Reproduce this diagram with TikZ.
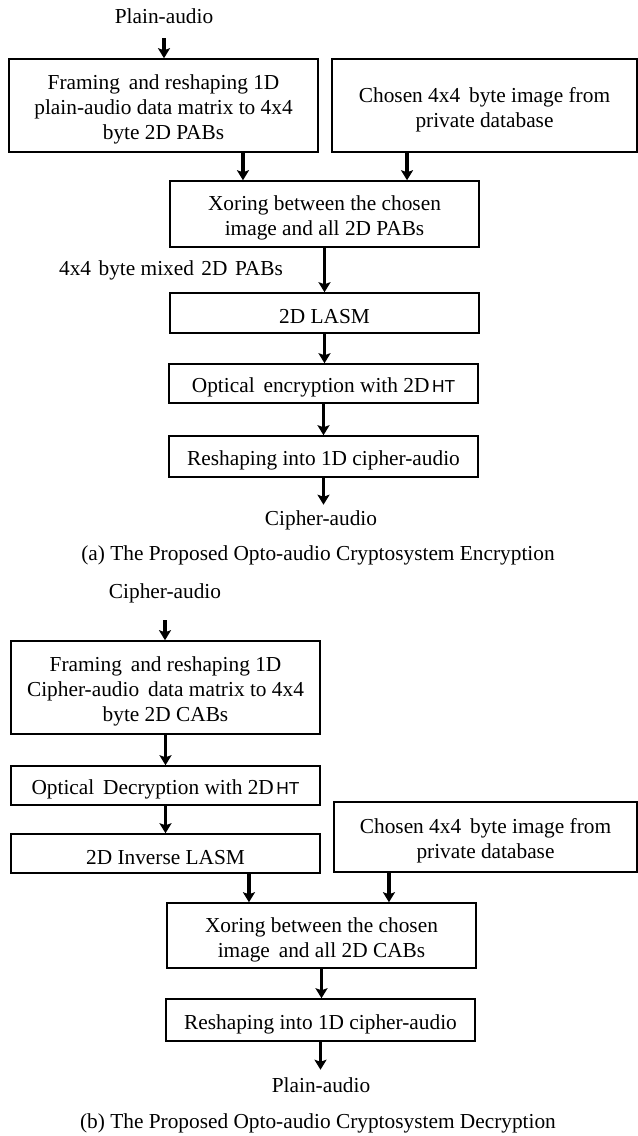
\documentclass[tikz,border=0pt]{standalone}
\usepackage{fontspec}
\setmainfont{Liberation Serif}
\newfontfamily\htfont{Liberation Sans}
\usetikzlibrary{arrows.meta}
\newcommand{\HT}{\hspace{0.12em}{\htfont\fontsize{13pt}{14pt}\selectfont HT}}
\begin{document}
\begin{tikzpicture}[x=0.75pt,y=-0.75pt,
  every node/.style={font=\fontsize{16pt}{18.75pt}\selectfont},
  box/.style={draw, line width=1.15pt, inner sep=0pt,
    label={[align=center, inner sep=0pt, yshift=-3pt,
            font=\fontsize{16pt}{18.75pt}\selectfont]center:#1}},
  lbl/.style={inner sep=0pt, text height=11pt, text depth=3.5pt},
  arr/.style={line width=2.5pt, -{Stealth[length=7.5pt,width=9pt,inset=1.5pt]}}]
\useasboundingbox (0,0) rectangle (638,1136);
% ---------- (a) encryption ----------
\node[lbl] (t1) at (164,18) {Plain-audio};
\node[box={Framing\, and reshaping 1D\\ plain-audio data matrix to 4x4\\ byte 2D PABs},
  minimum width=231.75pt, minimum height=69.75pt] (b1) at (163.5,105.5) {};
\node[box={Chosen 4x4\, byte image from\\ private database},
  minimum width=228.75pt, minimum height=69.75pt] (b2) at (484.5,105.5) {};
\node[box={Xoring between the chosen\\ image and all 2D PABs},
  minimum width=231.75pt, minimum height=49.5pt] (x1) at (324.5,214) {};
\node[lbl] (m1) at (171,270) {4x4\hspace{0.1em} byte mixed\hspace{0.1em} 2D\hspace{0.1em} PABs};
\node[box={2D LASM}, minimum width=231.75pt, minimum height=30pt] (l1) at (324.5,313) {};
\node[box={Optical\, encryption with 2D\HT},
  minimum width=231.75pt, minimum height=29.25pt] (o1) at (323.5,383.5) {};
\node[box={Reshaping into 1D cipher-audio},
  minimum width=231.75pt, minimum height=30.75pt] (r1) at (323.5,456.5) {};
\node[lbl] (c1) at (321,520) {Cipher-audio};
\node[lbl] (capa) at (318,555) {(a) The Proposed Opto-audio Cryptosystem Encryption};

\draw[arr, shorten <=7.7pt] (t1.south) -- (t1.south |- b1.north);
\draw[arr] ([xshift=59.6pt]b1.south) -- ([xshift=59.6pt]b1.south |- x1.north);
\draw[arr] ([xshift=-58.1pt]b2.south) -- ([xshift=-58.1pt]b2.south |- x1.north);
\draw[arr] (x1.south) -- (x1.south |- l1.north);
\draw[arr] (l1.south) -- (l1.south |- o1.north);
\draw[arr] (o1.south) -- (o1.south |- r1.north);
\draw[arr, shorten >=4pt] (r1.south) -- (r1.south |- c1.north);

% ---------- (b) decryption ----------
\node[lbl] (c2) at (165,593) {Cipher-audio};
\node[box={Framing\, and reshaping 1D\\ Cipher-audio\, data matrix to 4x4\\ byte 2D CABs},
  minimum width=231.75pt, minimum height=69.75pt] (b3) at (165.5,687.5) {};
\node[box={Optical\, Decryption with 2D\HT},
  minimum width=231.75pt, minimum height=29.25pt] (o2) at (165.5,785.5) {};
\node[box={2D Inverse LASM},
  minimum width=231.75pt, minimum height=29.25pt] (l2) at (165.5,853.5) {};
\node[box={Chosen 4x4\, byte image from\\ private database},
  minimum width=227.25pt, minimum height=52.5pt] (b4) at (485.5,837) {};
\node[box={Xoring between the chosen\\ image\, and all 2D CABs},
  minimum width=231.75pt, minimum height=48.75pt] (x2) at (321.5,935.5) {};
\node[box={Reshaping into 1D cipher-audio},
  minimum width=231.75pt, minimum height=31.5pt] (r2) at (320.5,1020) {};
\node[lbl] (p2) at (321,1087) {Plain-audio};
\node[lbl] (capb) at (318,1123) {(b) The Proposed Opto-audio Cryptosystem Decryption};

\draw[arr, shorten <=13pt] (c2.south) -- (c2.south |- b3.north);
\draw[arr] (b3.south) -- (b3.south |- o2.north);
\draw[arr] (o2.south) -- (o2.south |- l2.north);
\draw[arr] ([xshift=62.6pt]l2.south) -- ([xshift=62.6pt]l2.south |- x2.north);
\draw[arr] ([xshift=-72.4pt]b4.south) -- ([xshift=-72.4pt]b4.south |- x2.north);
\draw[arr] (x2.south) -- (x2.south |- r2.north);
\draw[arr, shorten >=5.5pt] (r2.south) -- (r2.south |- p2.north);
\end{tikzpicture}
\end{document}
